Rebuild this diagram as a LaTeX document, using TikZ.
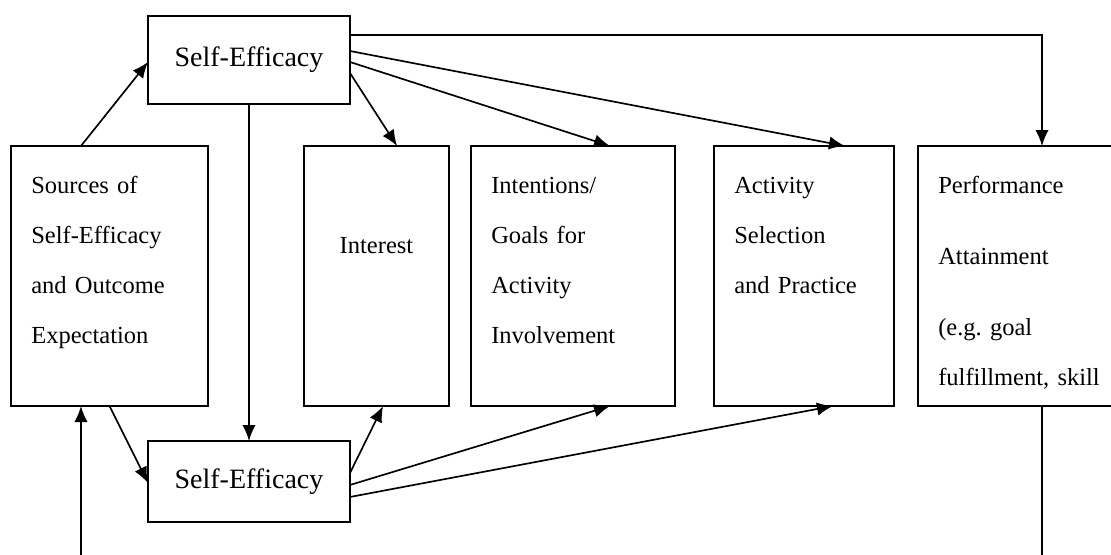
\documentclass[tikz,border=0pt]{standalone}
\usepackage{fontspec}
\setmainfont{Liberation Serif}
\usetikzlibrary{arrows.meta}
\begin{document}
\begin{tikzpicture}[x=0.75pt,y=-0.75pt,
  box/.style={draw, line width=1.25pt, inner sep=0pt, outer sep=0pt},
  sebox/.style={box, minimum width=151.5pt, font=\fontsize{21}{25}\selectfont},
  tallbox/.style={box, minimum height=195pt},
  txt/.style={anchor=base west, inner sep=0pt, text width=160pt, align=left,
    font=\fontsize{18.4}{37.5}\selectfont},
  conn/.style={line width=1.25pt},
  arr/.style={conn, -{Latex[length=12pt,width=10pt]}}]
\useasboundingbox (0,0) rectangle (1111,554);
% boxes
\node[sebox, minimum height=66pt] (se1) at (249,60) {Self-Efficacy};
\node[sebox, minimum height=60.75pt] (se2) at (249,481.5) {Self-Efficacy};
\node[tallbox, minimum width=147.75pt] (src) at (109.5,276) {};
\node[tallbox, minimum width=108.75pt] (int) at (376.5,276) {};
\node[tallbox, minimum width=153pt] (intn) at (573,276) {};
\node[tallbox, minimum width=135pt] (act) at (804,276) {};
\node[tallbox, draw=none, minimum width=199.5pt] (perf) at (1051,276) {};
\draw[line width=1.25pt] (perf.north east) -- (perf.north west) -- (perf.south west) -- (perf.south east);
% texts
\node[txt] (srct) at (31,193) {Sources of\\Self-Efficacy\\and Outcome\\Expectation};
\node[anchor=base, inner sep=0pt, font=\fontsize{18.4}{37.5}\selectfont] (intt) at (376.5,253) {Interest};
\node[txt] (intnt) at (491,193) {Intentions/\\Goals for\\Activity\\Involvement};
\node[txt] (actt) at (734,193) {Activity\\Selection\\and Practice};
\node[txt] (perft) at (938,193) {Performance\\[15.75pt]Attainment\\[15.75pt](e.g.\ goal\\fulfillment, skill};
% free ends
\coordinate (bl) at (81,560);
\coordinate (br) at (1042,560);
% connectors
\draw[arr] ([xshift=-21.4pt]src.north) -- ([yshift=-1.5pt]se1.west);
\draw[arr] (src.south) -- ([yshift=-1.1pt]se2.west);
\draw[arr] (bl) -- ([xshift=-21.4pt]src.south);
\draw[arr] (se1.south) -- (se2.north);
\draw[arr] ([yshift=18.75pt]se1.east) -| ([xshift=-6.75pt]perf.north);
\draw[arr] ([yshift=6.75pt]se1.east) -- ([xshift=30.75pt]act.north);
\draw[arr] ([yshift=-1.5pt]se1.east) -- ([xshift=27.75pt]intn.north);
\draw[arr] ([yshift=-9.75pt]se1.east) -- ([xshift=15.4pt]int.north);
\draw[arr] ([yshift=6.4pt]se2.east) -- ([xshift=4.9pt]int.south);
\draw[arr] ([yshift=-2.6pt]se2.east) -- ([xshift=27.75pt]intn.south);
\draw[arr] ([yshift=-11.6pt]se2.east) -- ([xshift=21.75pt]act.south);
\draw[conn] ([xshift=-6.75pt]perf.south) -- (br);
\end{tikzpicture}
\end{document}
